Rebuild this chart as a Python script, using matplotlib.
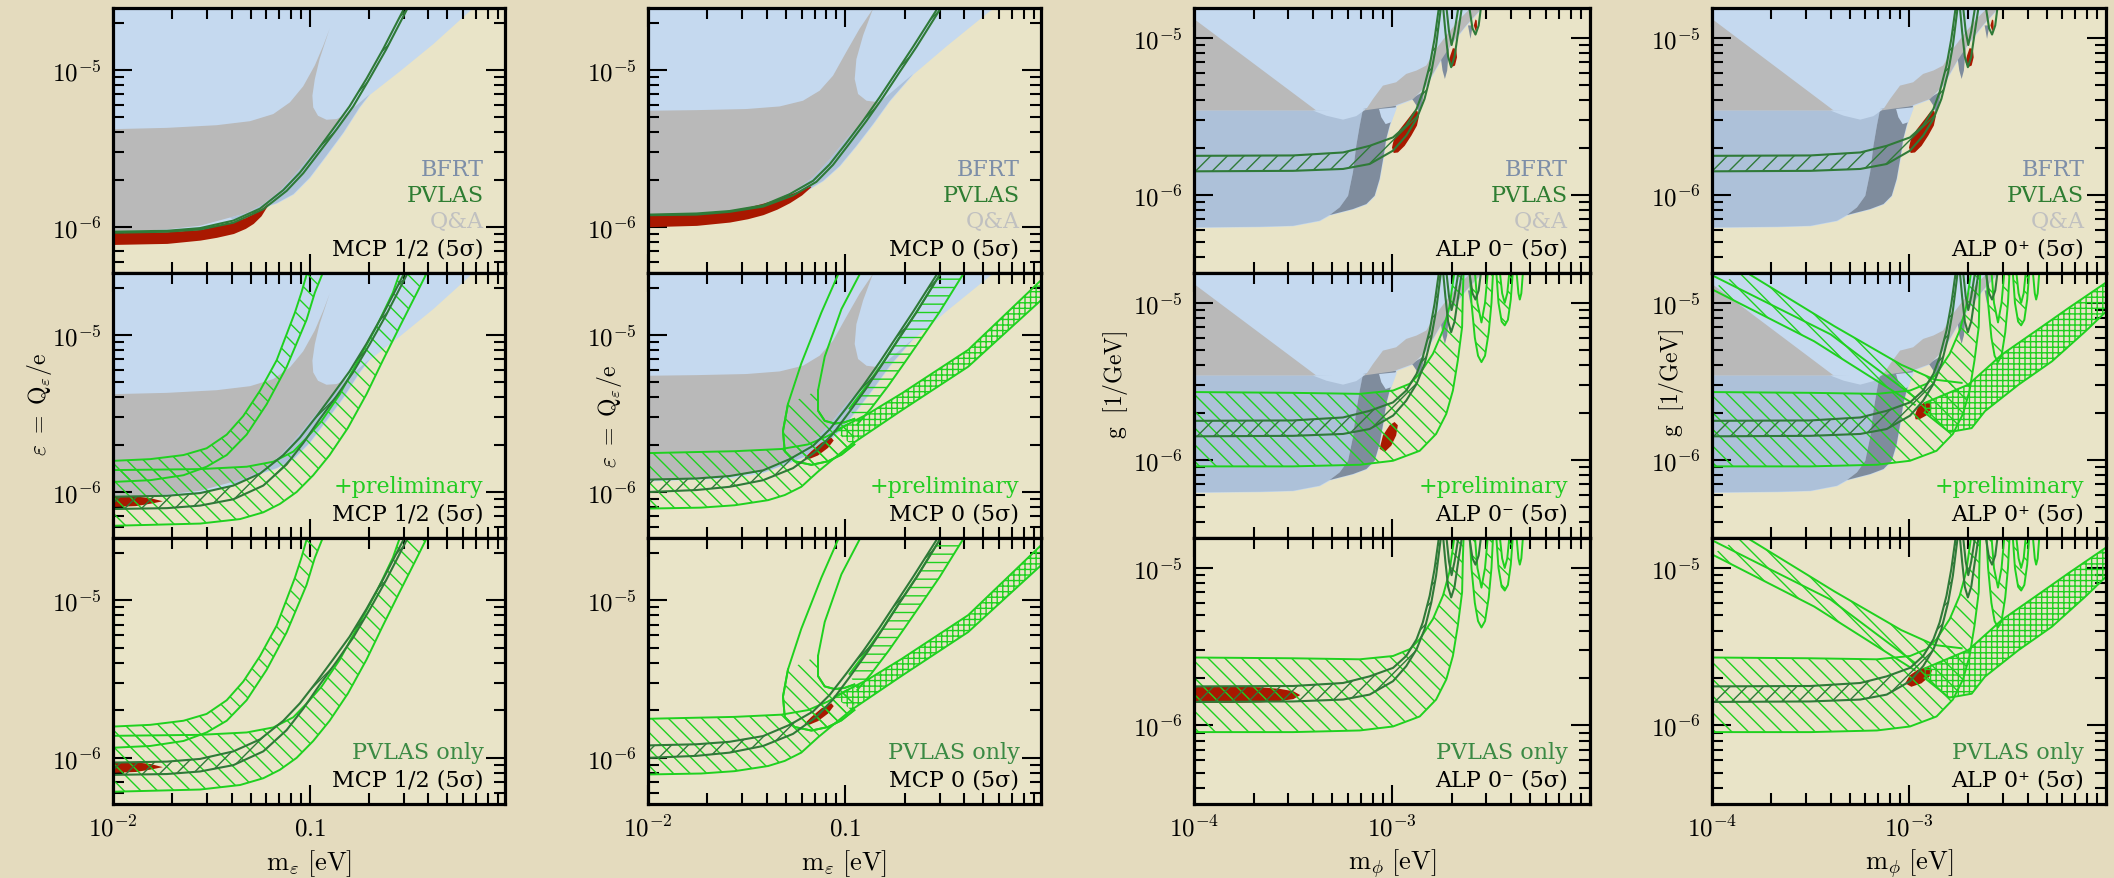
import matplotlib
matplotlib.use("Agg")
import matplotlib.pyplot as plt
from matplotlib.ticker import NullFormatter

plt.rcParams['mathtext.fontset'] = 'cm'
plt.rcParams['hatch.linewidth'] = 1.0

# colours
BG = "#e4dbbe"
PANEL = "#e9e4c8"
LBLUE = "#c5d9ef"
MBLUE = "#adc1d9"
SLATE = "#7f8c9d"
GREY = "#b9b9b9"
RED = "#a91800"
DKGREEN = "#2f7a38"
GREEN = "#1fd11f"
TXT_BFRT = "#7d8ea8"
TXT_PVLAS = "#2e7d32"
TXT_QA = "#c0c0c0"
TXT_PRELIM = "#22cc22"
TXT_ONLY = "#3b8a44"

# ---------------- axes ----------------
MCP_XLIM = (0.01, 0.98)
MCP_YLIM = (5.1e-7, 2.48e-5)
ALP_XLIM = (1e-4, 1e-2)
ALP_YLIM = (3.17e-7, 1.55e-5)
MCP_XTICKS = [0.01, 0.1]
MCP_XTICKLABELS = [r'$10^{-2}$', r'$0.1$']
ALP_XTICKS = [1e-4, 1e-3]
ALP_XTICKLABELS = [r'$10^{-4}$', r'$10^{-3}$']
Y_TICKS = [1e-6, 1e-5]
Y_TICKLABELS = [r'$10^{-6}$', r'$10^{-5}$']

# ---------------- MCP 1/2 (column 1) ----------------
mh_excl_x = [0.01, 0.0277, 0.0409, 0.0558, 0.0678, 0.0824, 0.1, 0.121, 0.148, 0.179, 0.201, 0.286, 0.421, 0.673]
mh_excl_y = [9.3e-7, 9.8e-7, 1.11e-6, 1.31e-6, 1.42e-6, 1.62e-6, 2.07e-6, 2.84e-6, 4.0e-6, 5.8e-6, 7.0e-6, 9.9e-6, 1.47e-5, 2.5e-5]
mh_grey_x = [0.01, 0.0188, 0.0336, 0.0497, 0.0652, 0.0792, 0.0925, 0.106, 0.117, 0.126,
             0.112, 0.106, 0.103, 0.104, 0.110, 0.1215, 0.137, 0.153,
             0.126, 0.104, 0.0856, 0.0704, 0.058, 0.0478, 0.0393, 0.0277, 0.0188, 0.01]
mh_grey_y = [4.2e-6, 4.28e-6, 4.45e-6, 4.72e-6, 5.24e-6, 6.22e-6, 7.87e-6, 1.07e-5, 1.43e-5, 1.83e-5,
             1.17e-5, 8.76e-6, 6.86e-6, 5.78e-6, 5.11e-6, 4.82e-6, 4.87e-6, 5.24e-6,
             4.0e-6, 2.98e-6, 2.22e-6, 1.70e-6, 1.40e-6, 1.23e-6, 1.15e-6, 1.02e-6, 9.66e-7, 9.34e-7]
mh_bfrt_x = [0.0393, 0.0478, 0.058, 0.0704, 0.0856, 0.104, 0.126, 0.153, 0.201, 0.179, 0.148, 0.121, 0.1, 0.0824, 0.0678, 0.0558, 0.0409]
mh_bfrt_y = [1.15e-6, 1.23e-6, 1.40e-6, 1.70e-6, 2.22e-6, 2.98e-6, 4.0e-6, 5.24e-6, 7.0e-6, 5.8e-6, 4.0e-6, 2.84e-6, 2.07e-6, 1.62e-6, 1.42e-6, 1.31e-6, 1.11e-6]
mh_red_x = [0.01, 0.0188, 0.0277, 0.0335, 0.0409, 0.047, 0.0516, 0.0565, 0.0615]
mh_red_hi = [9.2e-7, 9.34e-7, 9.66e-7, 1.02e-6, 1.08e-6, 1.15e-6, 1.22e-6, 1.31e-6, 1.42e-6]
mh_red_lo = [7.75e-7, 7.87e-7, 8.26e-7, 8.6e-7, 9.1e-7, 9.8e-7, 1.055e-6, 1.18e-6, 1.40e-6]
mh_red2_x = [0.01, 0.013, 0.0155, 0.0178]
mh_red2_hi = [9.5e-7, 9.45e-7, 9.2e-7, 8.8e-7]
mh_red2_lo = [8.1e-7, 8.2e-7, 8.5e-7, 8.8e-7]
mh_pv_hi_x = [0.01, 0.0188, 0.0277, 0.0409, 0.0558, 0.0733, 0.089, 0.108, 0.131, 0.159, 0.194, 0.235, 0.303]
mh_pv_hi_y = [9.34e-7, 9.47e-7, 9.85e-7, 1.10e-6, 1.31e-6, 1.72e-6, 2.22e-6, 3.03e-6, 4.2e-6, 5.86e-6, 8.8e-6, 1.35e-5, 2.5e-5]
mh_pv_lo_x = [0.01, 0.0188, 0.0277, 0.0409, 0.058, 0.0762, 0.0925, 0.112, 0.137, 0.166, 0.201, 0.244, 0.315]
mh_pv_lo_y = [9.2e-7, 9.34e-7, 9.66e-7, 1.066e-6, 1.30e-6, 1.70e-6, 2.2e-6, 3.01e-6, 4.2e-6, 5.86e-6, 8.8e-6, 1.35e-5, 2.5e-5]
mh_pv_lo2_y = [7.8e-7, 7.9e-7, 8.2e-7, 9.0e-7, 1.1e-6, 1.5e-6, 2.05e-6, 2.9e-6, 4.1e-6, 5.8e-6, 8.7e-6, 1.34e-5, 2.5e-5]
mh_w_hi_x = [0.01, 0.0277, 0.0478, 0.0652, 0.0824, 0.0962, 0.1146, 0.142, 0.176, 0.218, 0.264, 0.29]
mh_w_hi_y = [1.38e-6, 1.40e-6, 1.45e-6, 1.56e-6, 1.81e-6, 2.21e-6, 2.83e-6, 4.2e-6, 6.9e-6, 1.13e-5, 1.86e-5, 2.6e-5]
mh_w_lo_x = [0.01, 0.0277, 0.0442, 0.058, 0.0704, 0.0856, 0.104, 0.126, 0.156, 0.194, 0.235, 0.286, 0.35, 0.40]
mh_w_lo_y = [6.1e-7, 6.3e-7, 6.73e-7, 7.43e-7, 8.4e-7, 1.0e-6, 1.28e-6, 1.72e-6, 2.56e-6, 4.2e-6, 6.9e-6, 1.13e-5, 1.86e-5, 2.6e-5]
mh_n_hi_x = [0.01, 0.01545, 0.0228, 0.0299, 0.0378, 0.0459, 0.0558, 0.0678, 0.0838, 0.0906, 0.0978]
mh_n_hi_y = [1.58e-6, 1.62e-6, 1.72e-6, 1.90e-6, 2.32e-6, 3.05e-6, 4.42e-6, 6.9e-6, 1.38e-5, 1.86e-5, 2.6e-5]
mh_n_lo_x = [0.01, 0.01545, 0.0228, 0.0299, 0.0378, 0.0477, 0.0603, 0.0762, 0.0962, 0.106, 0.118]
mh_n_lo_y = [1.16e-6, 1.19e-6, 1.28e-6, 1.45e-6, 1.72e-6, 2.32e-6, 3.62e-6, 6.25e-6, 1.25e-5, 1.86e-5, 2.6e-5]

# ---------------- MCP 0 (column 2) ----------------
m0_excl_x = [0.01, 0.0259, 0.0383, 0.0522, 0.0634, 0.0771, 0.0936, 0.1137, 0.138, 0.168, 0.220, 0.325, 0.538, 0.575]
m0_excl_y = [1.175e-6, 1.23e-6, 1.33e-6, 1.54e-6, 1.70e-6, 1.97e-6, 2.45e-6, 3.29e-6, 4.52e-6, 6.37e-6, 9.42e-6, 1.43e-5, 2.39e-5, 2.5e-5]
m0_grey_x = [0.01, 0.0176, 0.0315, 0.0465, 0.061, 0.0741, 0.0866, 0.101, 0.118, 0.138,
             0.123, 0.1137, 0.1115, 0.116, 0.128, 0.149,
             0.123, 0.101, 0.0833, 0.0686, 0.0564, 0.0465, 0.0383, 0.0315, 0.0176, 0.01]
m0_grey_y = [5.5e-6, 5.55e-6, 5.64e-6, 5.86e-6, 6.37e-6, 7.38e-6, 9.2e-6, 1.30e-5, 1.83e-5, 2.45e-5,
             1.66e-5, 1.17e-5, 8.76e-6, 7.03e-6, 6.37e-6, 6.22e-6,
             4.75e-6, 3.63e-6, 2.70e-6, 2.07e-6, 1.74e-6, 1.54e-6, 1.36e-6, 1.30e-6, 1.23e-6, 1.20e-6]
m0_bfrt_x = [0.0383, 0.0465, 0.0564, 0.0686, 0.0833, 0.101, 0.123, 0.149, 0.220, 0.168, 0.138, 0.1137, 0.0936, 0.0771, 0.0634, 0.0522, 0.0383]
m0_bfrt_y = [1.36e-6, 1.54e-6, 1.74e-6, 2.07e-6, 2.70e-6, 3.63e-6, 4.75e-6, 6.22e-6, 9.42e-6, 6.37e-6, 4.52e-6, 3.29e-6, 2.45e-6, 1.97e-6, 1.70e-6, 1.54e-6, 1.33e-6]
m0_red_x = [0.01, 0.0176, 0.0259, 0.0320, 0.0383, 0.0450, 0.0522, 0.0600, 0.0667]
m0_red_hi = [1.19e-6, 1.216e-6, 1.28e-6, 1.34e-6, 1.42e-6, 1.51e-6, 1.62e-6, 1.73e-6, 1.83e-6]
m0_red_lo = [1.005e-6, 1.025e-6, 1.076e-6, 1.13e-6, 1.20e-6, 1.30e-6, 1.43e-6, 1.60e-6, 1.80e-6]
m0_red2_x = [0.0622, 0.0673, 0.0756, 0.0849, 0.0873, 0.0817, 0.0727, 0.0647]
m0_red2_y = [1.65e-6, 1.82e-6, 2.06e-6, 2.22e-6, 2.13e-6, 1.91e-6, 1.71e-6, 1.61e-6]
m0_pv_hi_x = [0.01, 0.0176, 0.0259, 0.0383, 0.0522, 0.0686, 0.0833, 0.101, 0.123, 0.149, 0.181, 0.220, 0.295]
m0_pv_hi_y = [1.20e-6, 1.22e-6, 1.265e-6, 1.375e-6, 1.62e-6, 1.97e-6, 2.51e-6, 3.42e-6, 4.75e-6, 6.69e-6, 9.67e-6, 1.40e-5, 2.5e-5]
m0_pv_lo_x = [0.01, 0.0176, 0.0259, 0.0383, 0.0543, 0.0713, 0.0866, 0.105, 0.128, 0.155, 0.188, 0.229, 0.306]
m0_pv_lo_y = [1.19e-6, 1.20e-6, 1.25e-6, 1.35e-6, 1.59e-6, 1.94e-6, 2.49e-6, 3.41e-6, 4.75e-6, 6.69e-6, 9.67e-6, 1.40e-5, 2.5e-5]
m0_pv_lo2_y = [1.0e-6, 1.03e-6, 1.08e-6, 1.19e-6, 1.42e-6, 1.82e-6, 2.35e-6, 3.25e-6, 4.6e-6, 6.6e-6, 9.6e-6, 1.39e-5, 2.5e-5]
m0_w_hi_x = [0.01, 0.0275, 0.0474, 0.0647, 0.0817, 0.103]
m0_w_hi_y = [1.77e-6, 1.82e-6, 1.88e-6, 2.01e-6, 2.28e-6, 2.70e-6]
m0_w_lo_x = [0.01, 0.0186, 0.0275, 0.0406, 0.0493, 0.0598, 0.0727, 0.0883, 0.107]
m0_w_lo_y = [7.85e-7, 7.96e-7, 8.24e-7, 8.88e-7, 9.57e-7, 1.08e-6, 1.35e-6, 1.65e-6, 2.01e-6]
m0_x_hi_x = [0.0883, 0.130, 0.192, 0.419, 1.06]
m0_x_hi_y = [2.45e-6, 3.14e-6, 4.23e-6, 8.04e-6, 2.45e-5]
m0_x_lo_x = [0.107, 0.192, 0.419, 1.06]
m0_x_lo_y = [2.01e-6, 3.30e-6, 6.28e-6, 1.82e-5]
m0_v_hi_x = [0.105, 0.128, 0.155, 0.188, 0.229, 0.306]
m0_v_hi_y = [3.41e-6, 4.75e-6, 6.69e-6, 9.67e-6, 1.40e-5, 2.5e-5]
m0_v_lo_x = [0.115, 0.135, 0.165, 0.20, 0.245, 0.30, 0.40]
m0_v_lo_y = [2.7e-6, 3.41e-6, 4.75e-6, 6.69e-6, 9.67e-6, 1.40e-5, 2.5e-5]
m0_u_out_x = [0.0935, 0.0756, 0.0598, 0.0512, 0.0483, 0.0493, 0.0553, 0.0673, 0.0817, 0.0955, 0.111]
m0_u_out_y = [2.55e-5, 1.39e-5, 6.59e-6, 3.64e-6, 2.45e-6, 1.82e-6, 1.57e-6, 1.49e-6, 1.57e-6, 1.73e-6, 2.01e-6]
m0_u_in_x = [0.1205, 0.0955, 0.0786, 0.0727, 0.0727, 0.0786, 0.0883, 0.0992, 0.111]
m0_u_in_y = [2.55e-5, 1.46e-5, 7.28e-6, 4.44e-6, 3.30e-6, 2.84e-6, 2.73e-6, 2.78e-6, 2.92e-6]

# ---------------- ALP (columns 3 and 4) ----------------
alp_excl_x = [1e-4, 2.15e-4, 3.16e-4, 4.31e-4, 4.84e-4, 6.35e-4, 7.42e-4, 8.17e-4, 8.66e-4, 9.08e-4,
              9.35e-4, 9.73e-4, 1.05e-3, 1.28e-3, 1.49e-3, 1.74e-3, 2.03e-3, 2.37e-3, 2.77e-3, 2.9e-3]
alp_excl_y = [6.19e-7, 6.25e-7, 6.34e-7, 6.83e-7, 7.42e-7, 8.1e-7, 8.72e-7, 9.85e-7, 1.26e-6, 1.77e-6,
              2.27e-6, 2.76e-6, 3.70e-6, 4.08e-6, 4.96e-6, 6.99e-6, 9.38e-6, 1.20e-5, 1.49e-5, 1.6e-5]
alp_bfrt_x = [1e-4, 7.14e-4, 6.87e-4, 6.6e-4, 6.35e-4, 6.0e-4, 5.44e-4, 4.84e-4, 4.31e-4, 3.16e-4, 2.15e-4, 1e-4]
alp_bfrt_y = [3.44e-6, 3.44e-6, 2.76e-6, 2.05e-6, 1.39e-6, 9.85e-7, 8.3e-7, 7.42e-7, 6.83e-7, 6.34e-7, 6.25e-7, 6.19e-7]
alp_slate_x = [4.84e-4, 5.44e-4, 6.0e-4, 6.35e-4, 6.6e-4, 6.87e-4, 7.14e-4, 1.05e-3, 9.73e-4, 9.35e-4, 9.08e-4, 8.66e-4, 8.17e-4, 7.42e-4, 6.35e-4]
alp_slate_y = [7.42e-7, 8.3e-7, 9.85e-7, 1.39e-6, 2.05e-6, 2.76e-6, 3.52e-6, 3.70e-6, 2.76e-6, 2.27e-6, 1.77e-6, 1.26e-6, 9.85e-7, 8.72e-7, 8.1e-7]
alp_notch_x = [8.6e-4, 8.83e-4, 9.29e-4, 9.92e-4, 1.03e-3, 1.06e-3]
alp_notch_y = [3.52e-6, 3.12e-6, 2.82e-6, 2.90e-6, 3.27e-6, 3.61e-6]
alp_dip1_x = [1.26e-3, 1.33e-3, 1.37e-3, 1.41e-3, 1.46e-3]
alp_dip1_y = [4.1e-6, 3.7e-6, 3.27e-6, 3.7e-6, 4.6e-6]
alp_dip2_x = [1.74e-3, 1.80e-3, 1.85e-3, 1.90e-3, 1.95e-3]
alp_dip2_y = [8.5e-6, 6.19e-6, 5.47e-6, 6.19e-6, 9.38e-6]
alp_dip3_x = [2.42e-3, 2.49e-3, 2.56e-3]
alp_dip3_y = [1.2e-5, 9.85e-6, 1.2e-5]
alp_tri_x = [1e-4, 4.15e-4, 1e-4]
alp_tri_y = [1.32e-5, 3.44e-6, 3.44e-6]
alp_valley_x = [3.99e-4, 4.66e-4, 5.66e-4, 6.6e-4, 7.42e-4]
alp_valley_y = [3.44e-6, 3.19e-6, 3.01e-6, 3.17e-6, 3.52e-6]
alp_strip_x = [7.14e-4, 1.012e-3, 1.28e-3, 1.49e-3, 1.74e-3, 2.03e-3, 2.37e-3, 2.77e-3, 2.9e-3, 2.56e-3,
               2.20e-3, 1.88e-3, 1.67e-3, 1.49e-3, 1.33e-3, 1.18e-3, 1.05e-3, 9.0e-4, 8.02e-4, 7.42e-4]
alp_strip_y = [3.44e-6, 3.66e-6, 4.08e-6, 4.96e-6, 6.99e-6, 9.38e-6, 1.20e-5, 1.49e-5, 1.6e-5, 1.6e-5,
               1.32e-5, 1.035e-5, 8.5e-6, 6.66e-6, 6.19e-6, 5.89e-6, 5.21e-6, 4.96e-6, 4.08e-6, 3.52e-6]
alp_pv_hi_x = [1e-4, 3.16e-4, 5.66e-4, 7.71e-4, 1.012e-3, 1.18e-3, 1.33e-3, 1.43e-3, 1.55e-3, 1.64e-3, 1.73e-3]
alp_pv_hi_y = [1.77e-6, 1.78e-6, 1.86e-6, 2.05e-6, 2.32e-6, 2.76e-6, 3.52e-6, 4.50e-6, 6.66e-6, 9.85e-6, 1.6e-5]
alp_pv_lo_x = [1e-4, 3.16e-4, 5.66e-4, 7.71e-4, 1.012e-3, 1.18e-3, 1.33e-3, 1.46e-3, 1.58e-3, 1.67e-3, 1.77e-3]
alp_pv_lo_y = [1.41e-6, 1.42e-6, 1.46e-6, 1.57e-6, 1.91e-6, 2.38e-6, 3.04e-6, 4.08e-6, 6.04e-6, 8.93e-6, 1.6e-5]
alp_u1o_x = [1.81e-3, 1.86e-3, 1.92e-3, 1.99e-3, 2.07e-3, 2.16e-3, 2.26e-3]
alp_u1o_y = [1.6e-5, 1.1e-5, 7.6e-6, 6.5e-6, 7.6e-6, 1.1e-5, 1.6e-5]
alp_u1i_x = [1.88e-3, 1.94e-3, 2.0e-3, 2.07e-3, 2.17e-3]
alp_u1i_y = [1.6e-5, 1.1e-5, 9.0e-6, 1.1e-5, 1.6e-5]
alp_u2_x = [2.45e-3, 2.55e-3, 2.64e-3, 2.74e-3, 2.82e-3]
alp_u2_y = [1.6e-5, 1.15e-5, 1.05e-5, 1.2e-5, 1.6e-5]
alp_red_a_x = [1.0e-3, 1.023e-3, 1.093e-3, 1.204e-3, 1.286e-3, 1.343e-3, 1.368e-3, 1.337e-3, 1.252e-3, 1.159e-3, 1.072e-3, 1.02e-3]
alp_red_a_y = [2.0e-6, 2.27e-6, 2.6e-6, 3.04e-6, 3.39e-6, 3.42e-6, 3.16e-6, 2.76e-6, 2.38e-6, 2.05e-6, 1.86e-6, 1.845e-6]
alp_red_b_x = [1.94e-3, 1.97e-3, 2.03e-3, 2.11e-3, 2.13e-3, 2.08e-3, 1.99e-3]
alp_red_b_y = [6.99e-6, 7.71e-6, 8.6e-6, 8.5e-6, 7.52e-6, 6.66e-6, 6.5e-6]
alp_red_c_x = [2.59e-3, 2.64e-3, 2.68e-3, 2.69e-3, 2.65e-3]
alp_red_c_y = [1.2e-5, 1.31e-5, 1.29e-5, 1.17e-5, 1.10e-5]
a3_red2_x = [8.66e-4, 9.0e-4, 9.73e-4, 1.03e-3, 1.07e-3, 1.05e-3, 9.92e-4, 9.18e-4]
a3_red2_y = [1.175e-6, 1.43e-6, 1.66e-6, 1.74e-6, 1.66e-6, 1.43e-6, 1.23e-6, 1.12e-6]
a3_red3_x = [1e-4, 1.5e-4, 2.15e-4, 2.7e-4, 3.16e-4, 3.42e-4]
a3_red3_hi = [1.78e-6, 1.78e-6, 1.76e-6, 1.72e-6, 1.66e-6, 1.57e-6]
a3_red3_lo = [1.40e-6, 1.40e-6, 1.41e-6, 1.44e-6, 1.48e-6, 1.57e-6]
alp_w_hi_x = [1e-4, 3.16e-4, 6.87e-4, 1.012e-3, 1.23e-3, 1.38e-3, 1.61e-3, 1.81e-3, 1.95e-3, 2.07e-3]
alp_w_hi_y = [2.70e-6, 2.67e-6, 2.63e-6, 2.76e-6, 3.05e-6, 3.53e-6, 4.74e-6, 6.69e-6, 9.43e-6, 1.6e-5]
alp_w_lo_x = [1e-4, 3.16e-4, 6.87e-4, 1.012e-3, 1.38e-3, 1.67e-3, 1.88e-3, 2.03e-3, 2.15e-3, 2.26e-3, 2.28e-3, 2.30e-3]
alp_w_lo_y = [9.07e-7, 9.07e-7, 9.29e-7, 9.85e-7, 1.14e-6, 1.46e-6, 1.96e-6, 2.76e-6, 4.30e-6, 7.02e-6, 1.15e-5, 1.6e-5]
alp_ua_o_x = [2.47e-3, 2.52e-3, 2.62e-3, 2.72e-3, 2.83e-3, 2.95e-3, 3.08e-3, 3.18e-3, 3.24e-3]
alp_ua_o_y = [1.6e-5, 1.0e-5, 6.0e-6, 4.6e-6, 4.19e-6, 4.6e-6, 6.5e-6, 1.0e-5, 1.6e-5]
alp_ua_i_x = [2.62e-3, 2.70e-3, 2.83e-3, 2.95e-3, 3.05e-3]
alp_ua_i_y = [1.6e-5, 1.0e-5, 7.5e-6, 1.0e-5, 1.6e-5]
alp_ub_o_x = [3.36e-3, 3.45e-3, 3.58e-3, 3.71e-3, 3.85e-3, 3.98e-3, 4.08e-3]
alp_ub_o_y = [1.6e-5, 1.0e-5, 7.6e-6, 7.19e-6, 7.8e-6, 1.05e-5, 1.6e-5]
alp_ub_i_x = [3.5e-3, 3.6e-3, 3.71e-3, 3.82e-3, 3.92e-3]
alp_ub_i_y = [1.6e-5, 1.15e-5, 1.0e-5, 1.15e-5, 1.6e-5]
alp_uc_x = [4.25e-3, 4.35e-3, 4.42e-3, 4.5e-3, 4.59e-3]
alp_uc_y = [1.6e-5, 1.15e-5, 1.05e-5, 1.15e-5, 1.6e-5]
a4_red2_x = [1.069e-3, 1.11e-3, 1.20e-3, 1.29e-3, 1.30e-3, 1.225e-3, 1.13e-3, 1.08e-3]
a4_red2_y = [1.915e-6, 2.16e-6, 2.33e-6, 2.31e-6, 2.11e-6, 1.915e-6, 1.81e-6, 1.81e-6]
a4_red3_x = [9.57e-4, 1.008e-3, 1.11e-3, 1.25e-3, 1.31e-3, 1.27e-3, 1.156e-3, 1.028e-3]
a4_red3_y = [1.85e-6, 2.08e-6, 2.26e-6, 2.36e-6, 2.24e-6, 2.04e-6, 1.85e-6, 1.76e-6]
a4_d_hi_x = [1.45e-4, 4.18e-4, 9.14e-4, 1.35e-3, 1.85e-3]
a4_d_hi_y = [1.6e-5, 7.1e-6, 4.03e-6, 3.24e-6, 3.09e-6]
a4_d_mid_x = [1e-4, 4.0e-4, 1.07e-3]
a4_d_mid_y = [1.5e-5, 6.3e-6, 2.5e-6]
a4_d_lo_x = [1e-4, 3.3e-4, 1.07e-3]
a4_d_lo_y = [1.22e-5, 5.69e-6, 2.24e-6]
a4_x_hi_x = [1.2e-3, 2.0e-3, 2.96e-3, 4.38e-3, 6.47e-3, 1.09e-2]
a4_x_hi_y = [2.3e-6, 3.01e-6, 4.68e-6, 6.59e-6, 9.29e-6, 1.45e-5]
a4_x_lo_x = [1.2e-3, 1.6e-3, 2.08e-3, 2.43e-3, 3.6e-3, 5.32e-3, 7.87e-3, 1.09e-2]
a4_x_lo_y = [2.0e-6, 1.5e-6, 1.59e-6, 2.04e-6, 3.01e-6, 4.24e-6, 6.59e-6, 9.75e-6]

# panel layout in pixels (left, right) and (top, bottom)
W, H = 2114, 879
col_px = [(113, 505), (648, 1041), (1194, 1590), (1712, 2106)]
row_px = [(9, 274), (274, 539), (539, 805)]

fig = plt.figure(figsize=(W / 100, H / 100), dpi=100, facecolor=BG)


def make_ax(c, r, kind):
    l, rr = col_px[c]
    t, b = row_px[r]
    ax = fig.add_axes([l / W, 1 - b / H, (rr - l) / W, (b - t) / H])
    ax.set_facecolor(PANEL)
    ax.set_xscale('log')
    ax.set_yscale('log')
    if kind == 'mcp':
        ax.set_xlim(MCP_XLIM)
        ax.set_ylim(MCP_YLIM)
        ax.set_xticks(MCP_XTICKS, MCP_XTICKLABELS)
    else:
        ax.set_xlim(ALP_XLIM)
        ax.set_ylim(ALP_YLIM)
        ax.set_xticks(ALP_XTICKS, ALP_XTICKLABELS)
    ax.set_yticks(Y_TICKS, Y_TICKLABELS)
    ax.xaxis.set_minor_formatter(NullFormatter())
    ax.yaxis.set_minor_formatter(NullFormatter())
    ax.tick_params(which='both', direction='in', top=True, right=True, labelsize=18, width=1.5, pad=8)
    ax.tick_params(which='major', length=14)
    ax.tick_params(which='minor', length=8)
    if r < 2:
        ax.tick_params(labelbottom=False)
    for s in ax.spines.values():
        s.set_linewidth(2.3)
    return ax


def band(ax, xa, ya, xb, yb, color, hatch, lw=1.4, z=2.2):
    ax.fill(list(xa) + list(xb)[::-1], list(ya) + list(yb)[::-1],
            facecolor='none', edgecolor=color, hatch=hatch, lw=0, zorder=z)
    ax.plot(xa, ya, color=color, lw=lw, zorder=z)
    ax.plot(xb, yb, color=color, lw=lw, zorder=z)


def texts(ax, lines):
    ys = [0.07, 0.172, 0.272, 0.37]
    for (t, c), y in zip(lines[::-1], ys):
        ax.text(0.945, y, t, transform=ax.transAxes, ha='right', va='baseline', color=c,
                fontsize=16, family=['DejaVu Serif', 'DejaVu Sans'], zorder=6)


def mcp_bg(ax, ex, ey, bx, by, gx, gy):
    ax.fill_between(ex, ey, ax.get_ylim()[1], color=LBLUE, lw=0, zorder=1.0)
    ax.fill(bx, by, color=MBLUE, lw=0, zorder=1.1)
    ax.fill(gx, gy, color=GREY, lw=0, zorder=1.2)


def alp_bg(ax):
    ax.fill_between(alp_excl_x, alp_excl_y, ax.get_ylim()[1], color=LBLUE, lw=0, zorder=1.0)
    ax.fill(alp_bfrt_x, alp_bfrt_y, color=MBLUE, lw=0, zorder=1.1)
    ax.fill(alp_slate_x, alp_slate_y, color=SLATE, lw=0, zorder=1.2)
    ax.fill(alp_notch_x, alp_notch_y, color=LBLUE, lw=0, zorder=1.3)
    for dx, dy in [(alp_dip1_x, alp_dip1_y), (alp_dip2_x, alp_dip2_y), (alp_dip3_x, alp_dip3_y)]:
        ax.fill(dx, dy, color=SLATE, lw=0, zorder=1.3)
    ax.fill(alp_tri_x, alp_tri_y, color=GREY, lw=0, zorder=1.4)
    ax.fill(alp_valley_x, alp_valley_y, color=LBLUE, lw=0, zorder=1.4)
    ax.fill(alp_strip_x, alp_strip_y, color=GREY, lw=0, zorder=1.4)


def alp_dark(ax):
    band(ax, alp_pv_hi_x, alp_pv_hi_y, alp_pv_lo_x, alp_pv_lo_y, DKGREEN, '//', lw=1.5, z=2.3)
    ax.plot(alp_u1o_x, alp_u1o_y, color=DKGREEN, lw=1.5, zorder=2.3)
    ax.plot(alp_u1i_x, alp_u1i_y, color=DKGREEN, lw=1.5, zorder=2.3)
    ax.plot(alp_u2_x, alp_u2_y, color=DKGREEN, lw=1.5, zorder=2.3)


def alp_bright(ax):
    band(ax, alp_w_hi_x, alp_w_hi_y, alp_w_lo_x, alp_w_lo_y, GREEN, '\\\\')
    band(ax, alp_ua_o_x, alp_ua_o_y, alp_ua_i_x, alp_ua_i_y, GREEN, '\\\\')
    band(ax, alp_ub_o_x, alp_ub_o_y, alp_ub_i_x, alp_ub_i_y, GREEN, '\\\\')
    ax.plot(alp_uc_x, alp_uc_y, color=GREEN, lw=1.4, zorder=2.2)


titles = ['MCP 1/2 (5σ)', 'MCP 0 (5σ)', 'ALP 0⁻ (5σ)', 'ALP 0⁺ (5σ)']
row_lines = [[('BFRT', TXT_BFRT), ('PVLAS', TXT_PVLAS), ('Q&A', TXT_QA)],
             [('+preliminary', TXT_PRELIM)],
             [('PVLAS only', TXT_ONLY)]]

for r in range(3):
    # column 1: MCP 1/2
    ax = make_ax(0, r, 'mcp')
    if r < 2:
        mcp_bg(ax, mh_excl_x, mh_excl_y, mh_bfrt_x, mh_bfrt_y, mh_grey_x, mh_grey_y)
    if r == 0:
        ax.fill_between(mh_red_x, mh_red_lo, mh_red_hi, color=RED, lw=0, zorder=1.8)
        band(ax, mh_pv_hi_x, mh_pv_hi_y, mh_pv_lo_x, mh_pv_lo_y, DKGREEN, '//', lw=1.5, z=2.3)
    else:
        ax.fill_between(mh_red2_x, mh_red2_lo, mh_red2_hi, color=RED, lw=0, zorder=1.8)
        band(ax, mh_w_hi_x, mh_w_hi_y, mh_w_lo_x, mh_w_lo_y, GREEN, '\\\\')
        band(ax, mh_n_hi_x, mh_n_hi_y, mh_n_lo_x, mh_n_lo_y, GREEN, '\\\\')
        band(ax, mh_pv_hi_x, mh_pv_hi_y, mh_pv_lo_x, mh_pv_lo2_y, DKGREEN, '//', lw=1.5, z=2.3)
    texts(ax, row_lines[r] + [(titles[0], 'black')])

    # column 2: MCP 0
    ax = make_ax(1, r, 'mcp')
    if r < 2:
        mcp_bg(ax, m0_excl_x, m0_excl_y, m0_bfrt_x, m0_bfrt_y, m0_grey_x, m0_grey_y)
    if r == 0:
        ax.fill_between(m0_red_x, m0_red_lo, m0_red_hi, color=RED, lw=0, zorder=1.8)
        band(ax, m0_pv_hi_x, m0_pv_hi_y, m0_pv_lo_x, m0_pv_lo_y, DKGREEN, '//', lw=1.5, z=2.3)
    else:
        ax.fill(m0_red2_x, m0_red2_y, color=RED, lw=0, zorder=1.8)
        band(ax, m0_w_hi_x, m0_w_hi_y, m0_w_lo_x, m0_w_lo_y, GREEN, '\\\\')
        band(ax, m0_x_hi_x, m0_x_hi_y, m0_x_lo_x, m0_x_lo_y, GREEN, '+++')
        band(ax, m0_v_hi_x, m0_v_hi_y, m0_v_lo_x, m0_v_lo_y, GREEN, '--')
        band(ax, m0_u_out_x[3:], m0_u_out_y[3:], m0_u_in_x[3:], m0_u_in_y[3:], GREEN, '\\\\')
        ax.plot(m0_u_out_x, m0_u_out_y, color=GREEN, lw=1.4, zorder=2.2)
        ax.plot(m0_u_in_x, m0_u_in_y, color=GREEN, lw=1.4, zorder=2.2)
        band(ax, m0_pv_hi_x, m0_pv_hi_y, m0_pv_lo_x, m0_pv_lo2_y, DKGREEN, '//', lw=1.5, z=2.3)
    texts(ax, row_lines[r] + [(titles[1], 'black')])

    # columns 3 and 4: ALP
    for c in (2, 3):
        ax = make_ax(c, r, 'alp')
        if r < 2:
            alp_bg(ax)
        if r == 0:
            for rx, ry in [(alp_red_a_x, alp_red_a_y), (alp_red_b_x, alp_red_b_y), (alp_red_c_x, alp_red_c_y)]:
                ax.fill(rx, ry, color=RED, lw=0, zorder=1.8)
        else:
            alp_bright(ax)
            if c == 3:
                band(ax, a4_d_hi_x, a4_d_hi_y, a4_d_lo_x, a4_d_lo_y, GREEN, '\\\\')
                ax.plot(a4_d_mid_x, a4_d_mid_y, color=GREEN, lw=1.4, zorder=2.2)
                band(ax, a4_x_hi_x, a4_x_hi_y, a4_x_lo_x, a4_x_lo_y, GREEN, '+++')
                if r == 1:
                    ax.fill(a4_red2_x, a4_red2_y, color=RED, lw=0, zorder=1.8)
                else:
                    ax.fill(a4_red3_x, a4_red3_y, color=RED, lw=0, zorder=1.8)
            else:
                if r == 1:
                    ax.fill(a3_red2_x, a3_red2_y, color=RED, lw=0, zorder=1.8)
                else:
                    ax.fill_between(a3_red3_x, a3_red3_lo, a3_red3_hi, color=RED, lw=0, zorder=1.8)
        alp_dark(ax)
        texts(ax, row_lines[r] + [(titles[c], 'black')])

# axis titles; in columns 2 and 4 they sit between the middle-row tick labels
ylab_mcp = r'$\varepsilon\ =\ \mathrm{Q}_{\varepsilon}/\mathrm{e}$'
ylab_alp = r'$\mathrm{g}\ \ [1/\mathrm{GeV}]$'
ylab_pos = [(40, 404), (610, 416), (1116, 385), (1672, 383)]
for (x, y), lab in zip(ylab_pos, [ylab_mcp, ylab_mcp, ylab_alp, ylab_alp]):
    fig.text(x / W, 1 - y / H, lab, rotation=90, ha='center', va='center', fontsize=17)
xlab_mcp = r'$\mathrm{m}_{\varepsilon}\ [\mathrm{eV}]$'
xlab_alp = r'$\mathrm{m}_{\phi}\ [\mathrm{eV}]$'
for c, lab in zip(range(4), [xlab_mcp, xlab_mcp, xlab_alp, xlab_alp]):
    xc = (col_px[c][0] + col_px[c][1]) / 2
    fig.text(xc / W, 1 - 864 / H, lab, ha='center', va='center', fontsize=19)

fig.savefig('out.png', dpi=100, facecolor=BG)
